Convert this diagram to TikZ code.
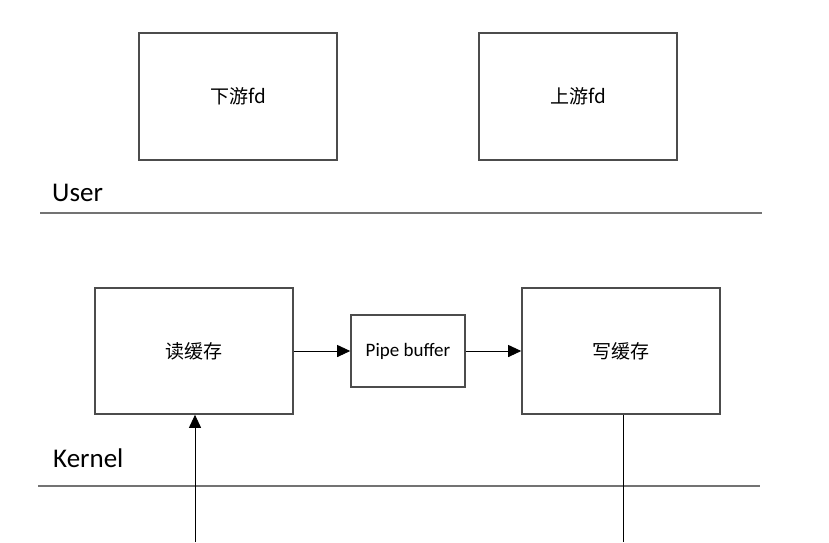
\documentclass[tikz,border=0pt]{standalone}
\usepackage{fontspec}
\setmainfont{Carlito}
\newfontfamily\cjk{Noto Sans CJK SC}
\usetikzlibrary{arrows.meta}
\begin{document}
\begin{tikzpicture}[x=1pt,y=-1pt,
  boxst/.style={draw=black!70,line width=1.6pt,fill=white,inner sep=0pt,font=\fontsize{19}{22}\selectfont},
  sepline/.style={draw=black!55,line width=2pt},
  conn/.style={draw=black,line width=0.9pt},
  arr/.style={conn,-{Triangle[length=13pt,width=12pt]}},
  layer/.style={anchor=base west,inner sep=0pt,font=\fontsize{27}{30}\selectfont}]
\useasboundingbox (0,0) rectangle (829,542);
% user boxes
\node[boxst,minimum width=198pt,minimum height=127pt] (down) at (238,96.5) {\cjk 下游fd};
\node[boxst,minimum width=198pt,minimum height=127pt] (up) at (578,96.5) {\cjk 上游fd};
% layer labels and separators
\node[layer] (user) at (52,201) {User};
\coordinate (ul1) at (40,213);
\coordinate (ul2) at (762,213);
\draw[sepline] (ul1) -- (ul2);
\node[layer] (kernel) at (53,467) {Kernel};
\coordinate (kl1) at (38,486);
\coordinate (kl2) at (760,486);
\draw[sepline] (kl1) -- (kl2);
% kernel boxes
\node[boxst,minimum width=198pt,minimum height=126pt] (rbuf) at (194,351) {\cjk 读缓存};
\node[boxst,minimum width=114pt,minimum height=72pt] (pipe) at (408,351) {Pipe buffer};
\node[boxst,minimum width=198pt,minimum height=126pt] (wbuf) at (621,351) {\cjk 写缓存};
% connectors
\draw[arr] (rbuf.east) -- (pipe.west);
\draw[arr] (pipe.east) -- (wbuf.west);
\coordinate (rin) at (195,542);
\draw[arr] (rin) -- (rin |- rbuf.south);
\coordinate (wout) at (623,542);
\draw[conn] (wout |- wbuf.south) -- (wout);
\end{tikzpicture}
\end{document}
